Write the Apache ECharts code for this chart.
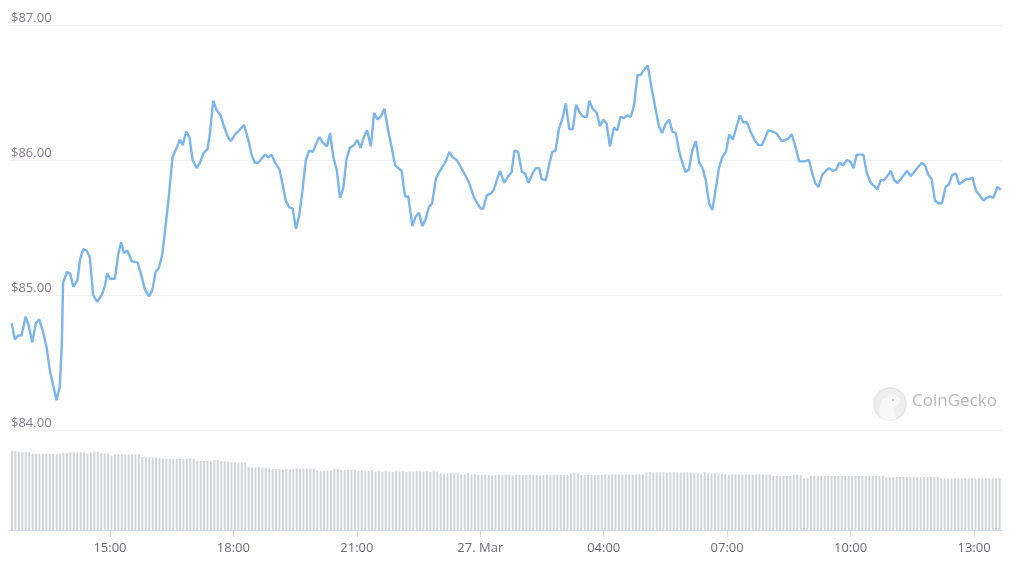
<!DOCTYPE html>
<html><head><meta charset="utf-8">
<script src="https://cdn.jsdelivr.net/npm/echarts@6/dist/echarts.min.js"></script>
<style>html,body{margin:0;padding:0;background:#fff}#c{width:1024px;height:574px}</style>
</head><body><div id="c"></div>
<script>
// hours since 26 Mar 00:00 (real time; 24 = 27 Mar 00:00)
const priceTimes = [12.61,12.69,12.77,12.85,12.95,13.01,13.11,13.20,13.28,13.38,13.46,13.54,13.62,13.70,13.78,13.83,13.86,13.95,14.03,14.11,14.21,14.27,14.35,14.43,14.51,14.59,14.69,14.80,14.88,14.93,15.00,15.12,15.20,15.27,15.34,15.42,15.53,15.67,15.75,15.85,15.95,16.03,16.11,16.19,16.27,16.34,16.42,16.52,16.62,16.70,16.77,16.85,16.93,17.01,17.11,17.19,17.27,17.37,17.43,17.51,17.59,17.69,17.77,17.88,17.94,18.04,18.14,18.26,18.36,18.44,18.52,18.60,18.77,18.85,18.93,19.01,19.12,19.19,19.27,19.35,19.44,19.52,19.60,19.68,19.76,19.84,19.93,20.01,20.09,20.17,20.27,20.35,20.43,20.51,20.59,20.67,20.75,20.83,20.93,21.01,21.09,21.17,21.25,21.34,21.42,21.50,21.58,21.67,21.76,21.85,21.93,22.01,22.09,22.17,22.25,22.35,22.43,22.51,22.59,22.67,22.75,22.83,22.92,23.00,23.08,23.16,23.25,23.33,23.43,23.52,23.63,23.73,23.85,23.93,24.01,24.07,24.16,24.25,24.33,24.41,24.48,24.58,24.68,24.76,24.83,24.92,25.01,25.09,25.17,25.27,25.35,25.43,25.49,25.59,25.67,25.75,25.83,25.91,25.99,26.08,26.16,26.25,26.33,26.42,26.50,26.59,26.65,26.73,26.83,26.91,26.99,27.07,27.15,27.25,27.33,27.41,27.49,27.57,27.66,27.74,27.82,27.90,27.98,28.07,28.17,28.26,28.34,28.42,28.51,28.59,28.67,28.75,28.83,28.91,28.99,29.07,29.15,29.24,29.32,29.40,29.48,29.56,29.64,29.72,29.80,29.88,29.97,30.05,30.14,30.23,30.31,30.39,30.48,30.57,30.68,30.76,30.84,30.92,31.00,31.11,31.19,31.33,31.43,31.49,31.57,31.65,31.75,31.88,31.99,32.06,32.14,32.22,32.31,32.40,32.48,32.57,32.65,32.73,32.81,32.91,32.99,33.07,33.15,33.31,33.39,33.49,33.57,33.65,33.73,33.81,33.89,33.98,34.06,34.14,34.22,34.30,34.38,34.46,34.54,34.62,34.73,34.81,34.89,34.97,35.05,35.13,35.22,35.31,35.39,35.47,35.56,35.64,35.72,35.82,35.90,35.96,36.05,36.13,36.23,36.31,36.39,36.47,36.57,36.65];
const prices = [84.79,84.67,84.70,84.70,84.84,84.79,84.65,84.79,84.82,84.72,84.61,84.44,84.33,84.22,84.32,84.64,85.09,85.17,85.16,85.06,85.11,85.26,85.34,85.33,85.28,85.00,84.95,85.00,85.07,85.16,85.12,85.12,85.30,85.39,85.31,85.33,85.25,85.24,85.16,85.04,84.99,85.04,85.17,85.20,85.30,85.48,85.70,86.02,86.09,86.15,86.11,86.21,86.17,86.00,85.94,85.98,86.05,86.08,86.20,86.44,86.37,86.33,86.25,86.16,86.14,86.19,86.22,86.26,86.15,86.04,85.98,85.98,86.04,86.02,86.04,85.98,85.93,85.83,85.70,85.65,85.64,85.49,85.59,85.78,86.00,86.07,86.06,86.12,86.17,86.13,86.10,86.20,86.02,85.93,85.72,85.79,86.01,86.09,86.11,86.15,86.09,86.17,86.22,86.10,86.35,86.30,86.32,86.38,86.22,86.09,85.96,85.94,85.92,85.73,85.73,85.51,85.58,85.61,85.51,85.56,85.65,85.68,85.86,85.91,85.95,85.99,86.06,86.02,86.00,85.95,85.89,85.83,85.72,85.68,85.64,85.64,85.74,85.75,85.78,85.86,85.92,85.83,85.88,85.91,86.07,86.06,85.91,85.90,85.83,85.90,85.94,85.94,85.86,85.85,85.96,86.06,86.07,86.23,86.30,86.42,86.23,86.23,86.41,86.35,86.32,86.32,86.44,86.38,86.35,86.25,86.30,86.27,86.10,86.24,86.22,86.32,86.31,86.33,86.32,86.41,86.63,86.63,86.67,86.70,86.52,86.38,86.25,86.20,86.27,86.30,86.21,86.20,86.07,85.98,85.91,85.93,86.07,86.14,85.98,85.94,85.85,85.68,85.63,85.78,85.94,86.02,86.06,86.19,86.15,86.25,86.33,86.28,86.28,86.21,86.14,86.11,86.11,86.16,86.22,86.21,86.20,86.14,86.15,86.16,86.19,86.11,85.99,85.99,86.00,85.91,85.83,85.80,85.89,85.92,85.94,85.92,85.93,85.98,85.96,86.00,85.99,85.94,86.04,86.04,85.91,85.83,85.81,85.78,85.85,85.85,85.88,85.92,85.85,85.83,85.86,85.89,85.92,85.88,85.91,85.94,85.98,85.96,85.89,85.86,85.70,85.68,85.68,85.80,85.82,85.89,85.90,85.82,85.84,85.86,85.86,85.87,85.77,85.74,85.70,85.72,85.73,85.72,85.80,85.78];
// 5-minute volume bars (millions USD)
const volumes = [39.6,39.5, 39.0,38.9,39.1,38.9, 38.2,38.0,38.1,37.9,38.0,38.1,38.0,37.9,38.2, 38.5,38.6,38.8,38.9,38.8,38.9,38.8,38.3,38.7, 39.2,39.1, 38.6,38.4,38.3, 37.2,37.8,37.9, 37.8,37.7,37.8,37.8,37.7,37.8, 36.6,36.3,36.4,36.2,36.3,36.0, 35.6,35.5,35.7,35.4,35.5,35.6,35.4, 35.8,35.9,35.6, 34.6,34.5,34.5,34.6,34.4, 35.0,34.9, 34.4,34.3,34.2, 33.9,33.8,33.6,33.7,33.5, 31.6,31.3,31.3,31.4,31.2, 31.0,30.9, 30.6,30.4,30.5,30.3,30.5,30.4,30.5, 30.8,30.7,30.7,30.8,30.6,30.7, 29.8,29.6,29.7,29.8,29.7, 30.4,30.5,
30.1,30.0,30.2,30.0,29.9, 29.5,29.6,29.4,29.5, 30.0,29.2,29.3,29.1,29.4,29.2,29.0,29.3,29.2,29.4,29.1,29.3,29.2,29.4,29.3,29.2,29.4,29.1,29.3,29.2, 28.4,28.2,28.3,28.5,28.2,28.3, 27.8,27.9,28.6,27.7,27.8, 27.5,27.4,27.6,27.5,27.3,27.5,27.6,27.4,27.5,27.5,27.3,27.6,27.5,27.4,27.5,27.6,27.4,27.5,27.3,27.5,27.6,27.4,27.5,27.5,27.6,27.4,27.5, 28.3,28.4,28.2, 27.5,27.4,27.6,27.5,27.4,27.5,27.6, 27.8,27.7,27.9,27.8,27.8,27.7,27.9,27.8,27.7,27.8,27.9,27.8, 28.8,28.9,28.7,28.8,28.8,28.9,28.7,28.8,28.9,28.8,28.7,28.8,28.9,28.8, 28.3,28.4,28.2,28.8,28.3,28.2,28.4,28.3,28.2, 27.8,27.7,27.9,27.8,27.8,27.7,27.9,27.8,27.7,27.8,27.9,27.8,27.7,27.8, 27.0,27.1,26.9,27.0,27.1,27.0,27.5,27.6,27.4, 25.8,25.9, 27.0,27.1,26.9,27.0,27.0,27.1,27.0,26.9,27.0,27.1,27.0,27.0,26.9,27.0,27.1,27.0,27.0,26.9,27.0,27.1,27.0,27.0, 26.5,26.6,26.4,26.5,26.5,26.6,26.4,26.5,26.6,26.5,26.4,26.5,26.5,26.6,26.5,26.4, 25.8,25.9,25.7,25.8,25.8,25.9,25.7,25.8,25.8,25.9,25.7,25.8,25.8,25.9,25.8,25.7,25.8,25.8];
const volStart = 12.62;           // time of first bar (hours)
const volStepHours = 5 / 60;      // 5-minute bars
const xTickValues = [15, 18, 21, 24, 27, 30, 33, 36];
const xTickLabels = ['15:00', '18:00', '21:00', '27. Mar', '04:00', '07:00', '10:00', '13:00'];
const yMin = 84, yMax = 87, yStep = 1;

const xMin = 12.57, xMax = 36.68;
const priceData = priceTimes.map((t, i) => [t, prices[i]]);
const volData = volumes.map((v, i) => [volStart + i * volStepHours, v]);

const chart = echarts.init(document.getElementById('c'), null, {renderer: 'canvas'});
chart.setOption({
  animation: false,
  backgroundColor: '#ffffff',
  textStyle: {fontFamily: 'Open Sans'},
  grid: [
    {left: 10, right: 22, top: 25, height: 405},
    {left: 10, right: 22, top: 450, height: 80}
  ],
  xAxis: [
    {type: 'value', gridIndex: 0, min: xMin, max: xMax, show: false},
    {type: 'value', gridIndex: 1, min: xMin, max: xMax,
     axisLine: {show: true, lineStyle: {color: '#ccd6eb', width: 1}},
     axisTick: {show: true, customValues: xTickValues, length: 7, lineStyle: {color: '#ccd6eb'}},
     axisLabel: {show: true, customValues: xTickValues, margin: 12, color: '#6e6a78', fontSize: 13, fontFamily: 'Open Sans',
       formatter: v => { const k = xTickValues.findIndex(t => Math.abs(t - v) < 1e-6); return k >= 0 ? xTickLabels[k] : ''; }},
     splitLine: {show: false}}
  ],
  yAxis: [
    {type: 'value', gridIndex: 0, min: yMin, max: yMax, interval: yStep,
     axisLine: {show: false}, axisTick: {show: false},
     axisLabel: {inside: true, margin: 1, verticalAlign: 'bottom', lineHeight: 14, padding: 0, color: '#857e8f', fontSize: 13, fontFamily: 'Open Sans',
       formatter: v => '$' + v.toFixed(2)},
     splitLine: {show: true, lineStyle: {color: '#f0f0f0', width: 1}}},
    {type: 'value', gridIndex: 1, min: 0, max: 40, show: false, splitLine: {show: false}}
  ],
  graphic: [
    {type: 'circle', shape: {cx: 890, cy: 404, r: 16}, style: {fill: '#eeeeee', stroke: '#e3e3e3', lineWidth: 1.5}, z: 1},
    {type: 'polygon', shape: {points: [[880,416],[879,408],[882,400],[889,396],[895,395],[899,398],[900,402],[897,405],[894,407],[894,412],[896,419],[888,420],[883,419]]}, style: {fill: '#f8f8f8'}, z: 2},
    {type: 'circle', shape: {cx: 893, cy: 400, r: 1}, style: {fill: '#bdbdbd'}, z: 3},
    {type: 'text', left: 912, top: 393, style: {text: 'CoinGecko', fill: '#b8b8b8', font: '17px "Open Sans"'}, z: 1}
  ],
  series: [
    {type: 'bar', xAxisIndex: 1, yAxisIndex: 1, data: volData, barWidth: 2,
     itemStyle: {color: '#d2d4d8'}, silent: true},
    {type: 'line', xAxisIndex: 0, yAxisIndex: 0, data: priceData, showSymbol: false, smooth: false,
     lineStyle: {color: '#7cb5ec', width: 2.4}, silent: true, z: 3}
  ]
});
</script>
</body></html>
